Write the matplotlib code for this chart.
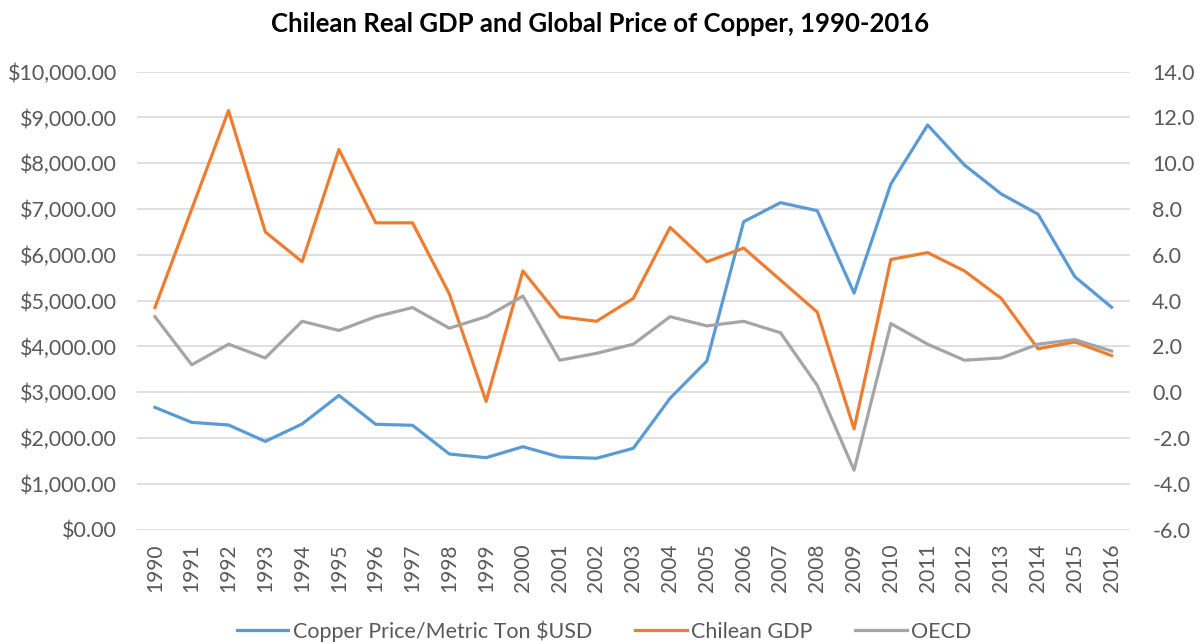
import matplotlib
matplotlib.use('Agg')
import matplotlib.pyplot as plt

plt.rcParams['font.family'] = ['Lato', 'DejaVu Sans']

# Dados
years = list(range(1990, 2017))
copper_price = [2670, 2343, 2286, 1928, 2308, 2932, 2301, 2279, 1653, 1572,
                1812, 1587, 1559, 1777, 2869, 3683, 6725, 7140, 6965, 5166,
                7548, 8836, 7963, 7330, 6890, 5524, 4856]
chile_gdp = [3.7, 8.0, 12.3, 7.0, 5.7, 10.6, 7.4, 7.4, 4.3, -0.4,
             5.3, 3.3, 3.1, 4.1, 7.2, 5.7, 6.3, 4.9, 3.5, -1.6,
             5.8, 6.1, 5.3, 4.1, 1.9, 2.2, 1.6]
oecd = [3.3, 1.2, 2.1, 1.5, 3.1, 2.7, 3.3, 3.7, 2.8, 3.3,
        4.2, 1.4, 1.7, 2.1, 3.3, 2.9, 3.1, 2.6, 0.3, -3.4,
        3.0, 2.1, 1.4, 1.5, 2.1, 2.3, 1.8]

blue = '#5B9BD5'
orange = '#ED7D31'
gray = '#A5A5A5'
label_color = '#595959'

fig = plt.figure(figsize=(12.01, 6.44), dpi=100)
ax = fig.add_axes([0.1137, 0.1775, 0.8272, 0.7112])
ax2 = ax.twinx()

x = list(range(len(years)))
l1, = ax.plot(x, copper_price, color=blue, lw=2.3, label='Copper Price/Metric Ton $USD')
l2, = ax2.plot(x, chile_gdp, color=orange, lw=2.3, label='Chilean GDP')
l3, = ax2.plot(x, oecd, color=gray, lw=2.3, label='OECD')

ax.set_xlim(-0.5, len(years) - 0.5)
ax.set_ylim(0, 10000)
ax2.set_ylim(-6, 14)
ax.set_yticks(range(0, 10001, 1000))
ax.set_yticklabels([f'${v:,.2f}' for v in range(0, 10001, 1000)])
ax2.set_yticks(range(-6, 15, 2))
ax2.set_yticklabels([f'{v:.1f}' for v in range(-6, 15, 2)])
ax.set_xticks(x)
ax.set_xticklabels([str(y) for y in years], rotation=90)

ax.grid(axis='y', color='#D9D9D9', lw=1.2)
ax.set_axisbelow(True)
for a in (ax, ax2):
    for s in a.spines.values():
        s.set_visible(False)
    a.tick_params(length=0, labelsize=15.5, labelcolor=label_color)
ax.tick_params(axis='x', labelsize=15, pad=10)
ax.tick_params(axis='y', pad=14)
ax2.tick_params(axis='y', pad=16)

fig.text(0.5, 0.962, 'Chilean Real GDP and Global Price of Copper, 1990-2016',
         ha='center', va='center', fontsize=18.5, fontweight='bold', color='black')

fig.legend(handles=[l1, l2, l3], loc='center', bbox_to_anchor=(0.503, 0.02),
           ncol=3, frameon=False, fontsize=15.5, handlelength=2.4,
           columnspacing=2.0, handletextpad=0.2, labelcolor=label_color)

plt.savefig('out.png', dpi=100)
